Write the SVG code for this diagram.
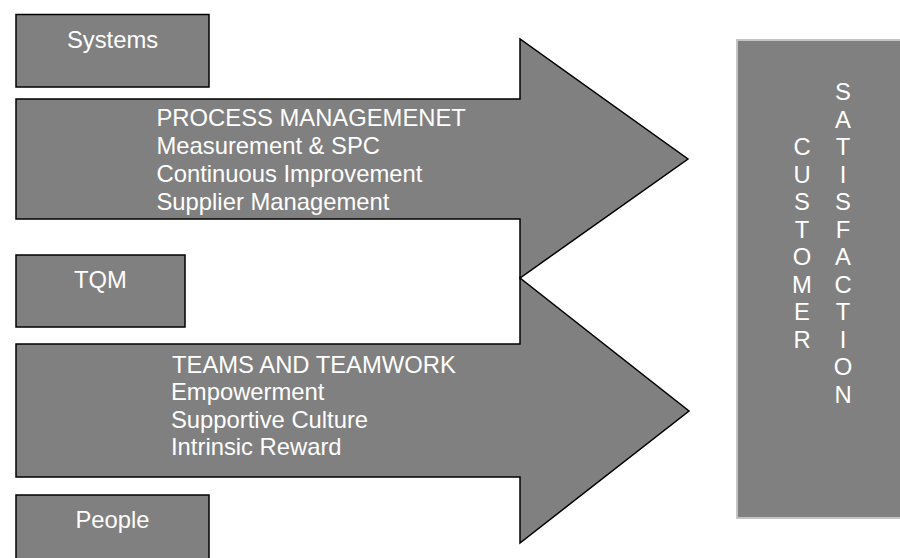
<svg xmlns="http://www.w3.org/2000/svg" width="900" height="558" viewBox="0 0 900 558">
<style>
.shape{fill:#808080;stroke:#000;stroke-width:1.5;stroke-linejoin:miter}
.lbl{font-family:"Liberation Sans",Arial,sans-serif;fill:#fff;font-size:23.8px}
.box{text-anchor:middle}
.ltr{text-anchor:middle}
</style>
<rect width="900" height="558" fill="#fff"/>
<g id="customer-satisfaction">
<rect x="737" y="40" width="170" height="478" fill="#808080" stroke="#c4c4c4" stroke-width="2"/>
<text class="lbl ltr">
<tspan x="802" y="155">C</tspan><tspan x="802" y="182.5">U</tspan><tspan x="802" y="210">S</tspan><tspan x="802" y="237.5">T</tspan><tspan x="802" y="265">O</tspan><tspan x="802" y="292.5">M</tspan><tspan x="802" y="320">E</tspan><tspan x="802" y="347.5">R</tspan>
</text>
<text class="lbl ltr">
<tspan x="843" y="100">S</tspan><tspan x="843" y="127.5">A</tspan><tspan x="843" y="155">T</tspan><tspan x="843" y="182.5">I</tspan><tspan x="843" y="210">S</tspan><tspan x="843" y="237.5">F</tspan><tspan x="843" y="265">A</tspan><tspan x="843" y="292.5">C</tspan><tspan x="843" y="320">T</tspan><tspan x="843" y="347.5">I</tspan><tspan x="843" y="375">O</tspan><tspan x="843" y="402.5">N</tspan>
</text>
</g>
<g id="process-arrow">
<polygon class="shape" points="16,99 520,99 520,39 688,159 520,278 520,219 16,219"/>
<text class="lbl"><tspan x="156.5" y="126">PROCESS MANAGEMENET</tspan><tspan x="156.5" y="154">Measurement &amp; SPC</tspan><tspan x="156.5" y="182">Continuous Improvement</tspan><tspan x="156.5" y="210">Supplier Management</tspan></text>
</g>
<g id="teams-arrow">
<polygon class="shape" points="16,344 520,344 520,278 689,411 520,543 520,477 16,477"/>
<text class="lbl"><tspan x="172" y="372.5">TEAMS AND TEAMWORK</tspan><tspan x="171" y="400">Empowerment</tspan><tspan x="171" y="427.5">Supportive Culture</tspan><tspan x="171" y="455">Intrinsic Reward</tspan></text>
</g>
<g id="systems">
<rect class="shape" x="16" y="14.5" width="193" height="72.5"/>
<text class="lbl box" x="112.5" y="48">Systems</text>
</g>
<g id="tqm">
<rect class="shape" x="16" y="255" width="169" height="72"/>
<text class="lbl box" x="100.5" y="288">TQM</text>
</g>
<g id="people">
<rect class="shape" x="16" y="495" width="193" height="80"/>
<text class="lbl box" x="112.5" y="528">People</text>
</g>
<g id="connectors"></g>
</svg>
